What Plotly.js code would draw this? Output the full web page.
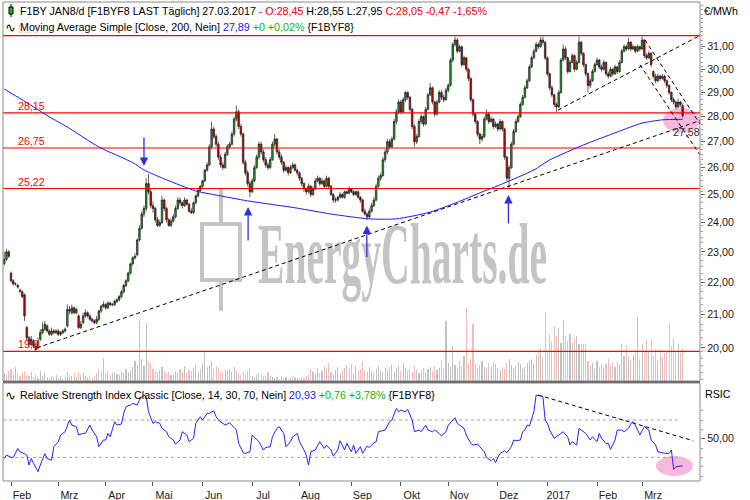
<!DOCTYPE html>
<html><head><meta charset="utf-8">
<script src="https://cdn.plot.ly/plotly-3.0.1.min.js"></script>
<style>html,body{margin:0;padding:0;background:#fff;}#chart{width:750px;height:500px;}</style>
</head><body><div id="chart"></div>
<script>
// ---------- data ----------
const firstDay = '2016-01-27';
const lastDay = '2017-03-27';
const closedDays = ['2016-03-25', '2016-03-28'];
const monthLabels = ['Feb','Mrz','Apr','Mai','Jun','Jul','Aug','Sep','Okt','Nov','Dez','2017','Feb','Mrz'];

const open = [22.6,22.75,23.0,22.3,22.05,21.95,21.9,21.75,21.7,21.6,
20.6,20.3,20.1,20.2,20.05,20.0,20.25,20.45,20.55,20.65,
20.5,20.4,20.5,20.45,20.5,20.4,20.45,20.5,20.65,21.15,
21.05,21.2,21.05,20.95,20.6,20.75,20.95,21.05,20.95,20.85,
20.8,20.75,20.85,21.1,21.25,21.3,21.2,21.35,21.3,21.3,
21.4,21.45,21.55,21.7,21.9,22.05,22.3,22.6,22.8,22.9,
23.4,23.8,24.3,24.5,25.4,25.1,24.6,24.5,24.1,23.9,
24.0,24.8,24.5,24.1,23.9,24.05,24.2,24.5,24.8,24.7,
24.6,24.8,24.65,24.4,24.35,24.7,24.95,25.15,25.3,25.5,
25.9,26.1,26.8,27.5,27.2,26.9,26.4,26.1,26.0,26.5,
26.8,26.9,27.3,27.9,28.2,27.6,27.3,26.2,25.8,25.4,
25.1,25.5,26.0,26.4,26.9,26.6,26.3,26.1,26.0,26.3,
26.9,27.1,26.6,26.4,26.2,25.9,26.0,25.8,26.0,26.1,
25.9,25.8,25.6,25.4,25.2,25.1,25.3,25.0,25.2,25.5,
25.6,25.4,25.5,25.3,25.6,25.3,25.0,24.8,24.8,24.9,
25.0,24.9,25.1,25.05,25.2,25.1,25.0,25.1,24.9,24.8,
24.4,24.3,24.2,24.4,24.6,24.8,25.3,25.6,25.7,26.3,
26.6,27.0,26.8,27.1,27.8,28.2,28.6,28.2,28.7,29.0,
28.8,28.3,27.6,27.0,27.2,27.8,28.0,27.7,28.3,28.9,
29.2,28.6,28.1,28.6,29.0,28.8,28.7,29.1,29.3,30.4,
31.1,31.3,30.8,31.0,30.2,30.5,30.0,29.6,28.7,28.1,
27.8,27.3,27.1,27.2,27.9,28.1,27.8,27.9,27.6,27.7,
27.5,27.8,27.5,26.4,25.6,26.0,26.9,27.4,27.8,28.0,
28.5,28.8,29.2,29.5,30.1,30.5,30.8,31.1,31.0,31.3,
31.2,30.5,29.8,29.2,28.9,28.5,28.4,29.0,30.4,30.9,
30.5,29.9,30.3,30.6,30.0,30.3,31.2,30.7,30.2,29.8,
29.3,29.5,29.9,30.2,30.4,30.1,30.0,30.3,29.8,29.7,
30.0,29.8,30.1,29.9,30.3,30.8,31.0,30.9,31.2,30.9,
31.0,30.8,31.0,30.9,31.3,30.6,30.5,30.7,29.9,29.7,
29.5,29.7,29.6,29.7,29.5,29.3,29.0,28.7,28.6,28.4,
28.6,28.45];

const high = [23.0,23.1,23.05,22.35,22.1,22.0,21.95,21.8,21.75,21.65,
20.65,20.35,20.35,20.25,20.15,20.3,20.55,20.75,20.8,20.7,
20.55,20.6,20.55,20.55,20.55,20.5,20.55,20.6,21.3,21.25,
21.3,21.25,21.2,21.0,20.8,21.05,21.15,21.1,21.0,20.9,
20.85,20.95,21.15,21.3,21.4,21.35,21.4,21.4,21.35,21.45,
21.5,21.6,21.75,21.95,22.1,22.35,22.65,22.85,22.95,23.45,
23.9,24.4,24.6,25.6,25.75,25.2,24.75,24.55,24.2,24.1,
24.95,24.85,24.55,24.15,24.15,24.3,24.6,24.9,24.9,24.75,
24.9,24.85,24.7,24.5,24.75,25.0,25.2,25.35,25.55,25.95,
26.2,26.9,27.8,27.6,27.3,27.0,26.5,26.2,26.6,26.9,
27.0,27.4,28.0,28.45,28.3,27.7,27.35,26.3,25.9,25.5,
25.6,26.1,26.5,27.0,27.0,26.7,26.4,26.2,26.4,27.0,
27.3,27.15,26.7,26.5,26.25,26.1,26.05,26.1,26.2,26.15,
25.95,25.85,25.65,25.45,25.25,25.4,25.35,25.3,25.6,25.7,
25.65,25.6,25.55,25.7,25.65,25.35,25.05,24.9,24.95,25.1,
25.05,25.15,25.15,25.3,25.25,25.15,25.15,25.15,24.95,24.85,
24.5,24.35,24.5,24.7,24.9,25.4,25.7,25.8,26.4,26.7,
27.1,27.1,27.2,27.9,28.3,28.7,28.7,28.8,29.05,29.05,
28.85,28.35,27.7,27.3,27.9,28.1,28.05,28.4,29.0,29.4,
29.25,28.65,28.7,29.1,29.1,28.9,29.2,29.4,30.5,31.2,
31.45,31.4,31.1,31.05,30.6,30.55,30.05,29.65,28.75,28.15,
27.85,27.35,27.3,28.0,28.3,28.2,28.0,27.95,27.8,27.75,
27.9,27.85,27.55,26.45,26.1,27.0,27.5,27.9,28.1,28.6,
28.9,29.3,29.6,30.2,30.6,30.9,31.2,31.2,31.45,31.45,
31.25,30.55,29.85,29.3,28.95,28.6,29.1,30.5,31.1,31.0,
30.55,30.4,30.7,30.65,30.4,31.45,31.25,30.75,30.25,29.85,
29.6,30.0,30.3,30.5,30.45,30.2,30.4,30.35,29.9,30.1,
30.05,30.2,30.15,30.4,30.9,31.1,31.1,31.4,31.25,31.1,
31.05,31.1,31.05,31.45,31.35,30.7,30.8,30.75,29.95,29.8,
29.8,29.75,29.8,29.75,29.55,29.35,29.05,28.8,28.65,28.75,
28.65,28.55];

const low = [22.55,22.7,22.8,22.0,21.9,21.9,21.8,21.65,21.5,20.8,
20.2,20.0,20.05,20.0,19.9,19.95,20.2,20.4,20.5,20.45,
20.35,20.35,20.4,20.4,20.35,20.35,20.4,20.45,20.6,21.0,
21.0,21.0,21.0,20.55,20.55,20.7,20.9,20.9,20.8,20.75,
20.7,20.7,20.8,21.05,21.2,21.15,21.15,21.25,21.25,21.25,
21.35,21.4,21.5,21.65,21.85,22.0,22.25,22.55,22.75,22.85,
23.35,23.75,24.2,24.4,25.0,24.5,24.35,24.0,23.85,23.85,
23.95,24.4,24.0,23.85,23.85,24.0,24.15,24.45,24.6,24.5,
24.55,24.6,24.35,24.3,24.3,24.65,24.9,25.1,25.25,25.45,
25.85,26.05,26.7,27.1,26.8,26.3,26.0,25.9,25.95,26.45,
26.7,26.85,27.2,27.8,27.5,27.2,26.1,25.7,25.3,24.9,
25.05,25.45,25.95,26.3,26.5,26.2,26.0,25.9,25.95,26.25,
26.8,26.5,26.3,26.1,25.8,25.85,25.7,25.75,25.95,25.85,
25.7,25.5,25.3,25.1,25.0,25.05,24.9,24.95,25.15,25.45,
25.3,25.35,25.2,25.25,25.2,24.95,24.7,24.7,24.75,24.85,
24.85,24.85,25.0,25.0,25.05,24.95,24.95,24.85,24.7,24.35,
24.25,24.1,24.15,24.35,24.55,24.75,25.25,25.5,25.65,26.2,
26.5,26.7,26.75,27.05,27.7,28.1,28.1,28.15,28.6,28.7,
28.2,27.5,26.8,26.9,27.15,27.7,27.6,27.65,28.25,28.85,
28.5,28.0,28.05,28.55,28.7,28.6,28.65,29.0,29.25,30.3,
31.0,30.7,30.75,30.1,30.15,29.9,29.5,28.6,28.0,27.7,
27.2,26.9,27.0,27.15,27.85,27.7,27.75,27.5,27.55,27.4,
27.45,27.4,26.3,25.5,25.2,25.95,26.85,27.35,27.75,27.95,
28.45,28.75,29.15,29.45,30.05,30.45,30.75,30.9,30.95,31.1,
30.4,29.7,29.1,28.8,28.4,28.2,28.35,28.95,30.35,30.4,
29.8,29.85,30.25,29.9,29.95,30.25,30.6,30.1,29.7,29.0,
29.2,29.45,29.85,30.15,30.0,29.9,29.95,29.7,29.6,29.65,
29.7,29.75,29.8,29.85,30.25,30.75,30.8,30.85,30.8,30.85,
30.7,30.75,30.8,30.85,30.5,30.4,30.45,30.1,29.6,29.4,
29.45,29.5,29.55,29.4,29.2,28.9,28.6,28.5,28.3,28.35,
28.4,27.95];

const close = [22.75,23.0,22.85,22.05,21.95,21.95,21.85,21.72,21.55,20.95,
20.3,20.1,20.25,20.05,19.95,20.2,20.45,20.55,20.7,20.5,
20.4,20.5,20.45,20.5,20.4,20.45,20.5,20.55,21.15,21.1,
21.2,21.05,21.15,20.6,20.7,20.95,21.05,20.95,20.85,20.8,
20.75,20.85,21.1,21.25,21.3,21.2,21.35,21.3,21.3,21.4,
21.45,21.55,21.7,21.9,22.05,22.3,22.6,22.8,22.85,23.4,
23.8,24.3,24.5,25.4,25.1,24.6,24.5,24.1,23.9,24.0,
24.8,24.5,24.1,23.9,24.05,24.2,24.5,24.8,24.7,24.6,
24.8,24.65,24.4,24.35,24.7,24.95,25.15,25.3,25.5,25.9,
26.1,26.8,27.5,27.2,26.9,26.4,26.1,26.0,26.5,26.8,
26.9,27.3,27.9,28.2,27.6,27.3,26.2,25.8,25.4,25.1,
25.5,26.0,26.4,26.9,26.6,26.3,26.1,26.0,26.3,26.9,
27.1,26.6,26.4,26.2,25.9,26.0,25.8,26.0,26.1,25.9,
25.8,25.6,25.4,25.2,25.1,25.3,25.0,25.2,25.5,25.6,
25.4,25.5,25.3,25.6,25.3,25.0,24.8,24.8,24.9,25.0,
24.9,25.1,25.05,25.2,25.1,25.0,25.1,24.9,24.8,24.4,
24.3,24.2,24.4,24.6,24.8,25.3,25.6,25.7,26.3,26.6,
27.0,26.8,27.1,27.8,28.2,28.6,28.2,28.7,29.0,28.8,
28.3,27.6,27.0,27.2,27.8,28.0,27.7,28.3,28.9,29.2,
28.6,28.1,28.6,29.0,28.8,28.7,29.1,29.3,30.4,31.1,
31.3,30.8,31.0,30.2,30.5,30.0,29.6,28.7,28.1,27.8,
27.3,27.1,27.2,27.9,28.1,27.8,27.9,27.6,27.7,27.5,
27.8,27.5,26.4,25.6,26.0,26.9,27.4,27.8,28.0,28.5,
28.8,29.2,29.5,30.1,30.5,30.8,31.1,31.0,31.3,31.2,
30.5,29.8,29.2,28.9,28.5,28.4,29.0,30.4,30.9,30.5,
29.9,30.3,30.6,30.0,30.3,31.2,30.7,30.2,29.8,29.3,
29.5,29.9,30.2,30.4,30.1,30.0,30.3,29.8,29.7,30.0,
29.8,30.1,29.9,30.3,30.8,31.0,30.9,31.2,30.9,31.0,
30.8,31.0,30.9,31.3,30.6,30.5,30.7,30.2,29.7,29.5,
29.7,29.6,29.7,29.5,29.3,29.0,28.7,28.6,28.4,28.6,
28.5,28.05];

const volume = [8,6,10,12,7,14,9,5,8,10,
6,5,9,4,7,3,10,5,8,4,
3,5,4,6,3,5,2,4,9,6,
5,7,4,9,6,8,5,4,6,3,
5,8,12,9,23,7,10,6,8,9,
7,6,10,8,12,9,11,14,20,16,
60,22,15,58,20,18,12,10,9,11,
14,10,8,9,6,7,10,8,12,9,
15,8,11,10,13,16,9,12,18,28,
14,16,20,12,15,13,8,9,11,10,
12,9,14,10,8,6,9,7,10,12,
5,4,6,8,7,5,6,9,5,4,
3,4,2,5,3,4,2,3,5,4,
3,2,4,3,5,6,12,9,7,13,
8,10,15,12,18,9,7,11,14,8,
10,13,16,12,17,8,15,10,12,20,
11,9,14,10,8,12,15,10,9,13,
11,14,16,9,12,15,10,18,13,11,
12,9,15,11,8,10,13,9,12,14,
10,15,11,13,20,12,60,18,14,35,
16,13,20,15,25,73,18,22,57,17,
13,16,20,14,12,18,15,19,17,13,
11,14,12,18,22,16,13,15,19,17,
12,14,18,20,22,17,26,30,33,24,
68,28,47,40,55,45,53,38,60,45,
40,47,38,43,45,37,37,37,37,20,
15,18,12,20,14,16,13,17,22,15,
18,14,20,16,37,25,36,24,20,26,
30,64,22,37,28,42,30,42,25,32,
20,32,24,28,30,58,35,43,30,37,
28,33];

const maDay   = [0,13,20,28,42,57,62,72,85,94,108,130,145,162,174,189,201,211,221,235,242,257,272,283,292,301];
const maValue = [29.15,28.40,27.99,27.58,26.79,26.19,25.91,25.54,25.13,24.98,24.77,24.51,24.30,24.13,24.13,24.37,24.72,25.06,25.39,25.91,26.29,26.87,27.38,27.74,27.87,27.89];

const rsiDay = [0,1,3,4,6,7,9,10,11,12,13,15,16,18,19,21,22,24,25,27,29,30,32,33,35,36,38,39,41,42,44,45,46,47,49,50,52,53,54,56,57,59,60,61,62,63,64,66,67,69,70,72,73,75,76,78,79,81,82,84,85,87,88,90,91,93,94,95,97,98,100,101,103,104,106,107,109,110,112,113,115,116,118,119,121,122,124,125,127,128,130,131,133,134,135,136,138,140,142,143,145,146,148,149,151,152,154,155,156,158,159,161,162,164,165,166,169,171,172,174,175,176,178,179,181,182,184,185,187,188,190,191,193,194,196,197,200,201,202,204,205,207,208,210,211,213,214,216,217,218,219,220,222,223,225,226,227,229,230,231,232,233,235,236,238,239,240,241,242,244,245,247,248,250,251,252,254,255,257,258,260,261,263,264,265,267,268,269,271,272,274,275,277,278,279,280,282,283,284,286,287,289,290,292,293,295,296,297,298,300,301];
const rsiValue = [28.9,32.5,30,30,39.6,36,34,32.5,21.8,28.9,23.6,14.6,21.8,34,28.9,27,41.4,46.8,54,57.5,70,64.6,62.9,54,55.7,55.7,64.6,59.3,52.1,41.4,48.6,48.6,55.7,52.1,68.2,64.6,65.7,77.1,84.3,86.1,87.9,86.1,91.4,95,96.8,95,78.9,66.4,68.2,66.4,61.1,57.5,52.1,48.6,44.3,48.6,57.5,54,46.8,50.4,66.4,73.6,70,77.1,77.1,80,73.6,70,66.4,64.6,67.1,64.6,59.3,45,35,34.3,36,54,48.6,46.8,37.9,40.7,41.4,52.1,61.1,62.9,55.7,41.4,46.8,52.1,55.7,46.8,37.9,32.5,21.8,36,37.9,46.8,39.6,43.2,37.9,31.4,37.9,47.9,37.9,45,36,43.2,34.3,41.4,34.3,42.1,40.7,45.7,46.8,57.5,59.3,68.2,70,82.5,78.9,80.7,78.9,81.4,70,57.5,59.3,57.5,64.6,59.3,57.5,59.3,55.7,52.9,57.5,64.6,72.5,66.4,64.6,61.1,54,45,43.2,44.3,41.4,36,30,26.4,28.9,24.3,30,34.3,37.1,35,41.4,48.6,47.9,48.6,57.5,59.3,64.6,63.6,78.9,96.8,95.7,95,70,66.4,59.3,50.4,52.1,55.7,57.5,52.1,43.2,46.8,43.2,61.1,57.5,55.7,48.6,52.1,46.8,55.7,50.4,45,45,38.6,48.6,59.3,59.3,57.5,61.1,66.4,68.2,64.6,54,59.3,62.9,59.3,48.6,43.2,36,35,34.3,34.3,37.9,17.1,20,20.7,20.93];

const levelValues = [31.5, 28.15, 26.75, 25.22, 19.9];
const levelLabels = ['31,5', '28,15', '26,75', '25,22', '19,9'];

// hand-drawn trend lines: [startDay, endDay], [startValue, endValue]
const trendDays   = [[14.5, 308.7], [245.7, 308.7], [284.3, 308.7], [282.1, 308.7]];
const trendValues = [[20.0, 27.84], [28.27, 31.51], [31.30, 27.70], [30.19, 26.48]];
const rsiTrendDays = [236.9, 305.6];
const rsiTrendValues = [96.8, 47.9];

const arrowDays = [62.0, 108.2, 160.9, 223.7];
const arrowTips = [26.06, 24.55, 23.90, 24.98];
const arrowOffsets = [-30, 35, 33, 30];

const priceTicks = [20,21,22,23,24,25,26,27,28,29,30,31];
const priceTickLabels = ['20,00','21,00','22,00','23,00','24,00','25,00','26,00','27,00','28,00','29,00','30,00','31,00'];

// ---------- build ----------
const days = [];
for (let d = new Date(firstDay + 'T00:00:00Z'); d <= new Date(lastDay + 'T00:00:00Z'); d.setUTCDate(d.getUTCDate() + 1)) {
  const wd = d.getUTCDay(); const iso = d.toISOString().slice(0, 10);
  if (wd === 0 || wd === 6 || closedDays.includes(iso)) continue;
  days.push(iso);
}
const idx = days.map((_, i) => i);
const monthTicks = [];
for (let i = 1; i < days.length; i++) if (days[i].slice(0, 7) !== days[i - 1].slice(0, 7)) monthTicks.push(i);

const X0 = -0.55, X1 = 308.7;
const FONT = 'Liberation Sans, Arial, sans-serif';
const px = v => (v - 3) / 697;      // pixel -> paper x
const py = v => (481 - v) / 479;    // pixel -> paper y

const minorPrice = [];
for (let k = 191; k <= 330; k += 2) { if (k % 10 !== 0) minorPrice.push(k / 10); }

const data = [];
data.push({type: 'bar', x: idx, y: volume, xaxis: 'x', yaxis: 'y', width: 0.5,
  marker: {color: volume.map((_, i) => close[i] >= open[i] ? '#c2c2c2' : '#f0bcbc'), line: {width: 0}}, hoverinfo: 'skip'});
levelValues.forEach(v => data.push({type: 'scatter', mode: 'lines', x: [X0, X1], y: [v, v], xaxis: 'x', yaxis: 'y2',
  line: {color: '#ff0000', width: 1.2}, hoverinfo: 'skip'}));
data.push({type: 'scatter', mode: 'lines', x: maDay, y: maValue, xaxis: 'x', yaxis: 'y2',
  line: {color: '#1a1aff', width: 1, shape: 'spline', smoothing: 0.6}, hoverinfo: 'skip'});
trendDays.forEach((t, k) => data.push({type: 'scatter', mode: 'lines', x: t, y: trendValues[k], xaxis: 'x', yaxis: 'y2',
  line: {color: '#000', width: 1, dash: '4px,3px'}, hoverinfo: 'skip'}));
data.push({type: 'candlestick', x: idx, open: open, high: high, low: low, close: close, xaxis: 'x', yaxis: 'y2',
  increasing: {fillcolor: '#22a022', line: {color: '#1a1a1a', width: 0.7}},
  decreasing: {fillcolor: '#e00000', line: {color: '#1a1a1a', width: 0.7}},
  whiskerwidth: 0, hoverinfo: 'skip'});
// RSI pane
[70, 30].forEach(v => data.push({type: 'scatter', mode: 'lines', x: [X0, 300], y: [v, v], xaxis: 'x', yaxis: 'y3',
  line: {color: '#a0a0a0', width: 1, dash: 'dot'}, hoverinfo: 'skip'}));
data.push({type: 'scatter', mode: 'lines', x: rsiTrendDays, y: rsiTrendValues, xaxis: 'x', yaxis: 'y3',
  line: {color: '#000', width: 1, dash: '4px,3px'}, hoverinfo: 'skip'});
data.push({type: 'scatter', mode: 'lines', x: rsiDay, y: rsiValue, xaxis: 'x', yaxis: 'y3',
  line: {color: '#2424ff', width: 1}, hoverinfo: 'skip'});

const annotations = [];
const txt = (x, y, text, size, color, extra) => Object.assign({xref: 'paper', yref: 'paper', x: x, y: y, text: text,
  showarrow: false, xanchor: 'left', yanchor: 'middle', font: {family: FONT, size: size, color: color}, borderpad: 0}, extra || {});
annotations.push(txt(px(19), py(11), 'F1BY JAN8/d [F1BYF8 LAST Täglich] 27.03.2017 <span style="color:#e00000">- O:28,45</span> H:28,55 L:27,95 <span style="color:#e00000">C:28,05 -0,47 -1,65%</span>', 10.7, '#000'));
annotations.push(txt(px(19), py(27), 'Moving Average Simple [Close, 200, Nein] <span style="color:#2020ff">27,89</span> <span style="color:#10b010">+0 +0,02%</span> {F1BYF8}', 10.7, '#000'));
annotations.push(txt(px(19), py(395), 'Relative Strength Index Classic [Close, 14, 30, 70, Nein] <span style="color:#2020ff">20,93</span> <span style="color:#10b010">+0,76 +3,78%</span> {F1BYF8}', 10.7, '#000'));
annotations.push(txt(px(4), py(27), '∿', 13, '#000'));
annotations.push(txt(px(4), py(395), '∿', 13, '#000'));
annotations.push(txt(px(703), py(11), '€/MWh', 10.7, '#000'));
annotations.push(txt(px(704), py(394), 'RSIC', 10.7, '#000'));
annotations.push(txt(px(672), py(132), '27,58', 10.7, '#333'));
levelValues.forEach((v, k) => annotations.push({xref: 'paper', yref: 'y2', x: px(17), y: Math.log10(v), text: levelLabels[k],
  showarrow: false, xanchor: 'left', yanchor: 'bottom', yshift: 0, borderpad: 0,
  font: {family: FONT, size: 10.7, color: '#ff0000'}, opacity: k === 0 ? 0.25 : 1}));
arrowDays.forEach((d, k) => annotations.push({xref: 'x', yref: 'y2', x: d, y: Math.log10(arrowTips[k]), text: '',
  showarrow: true, ax: 0, ay: arrowOffsets[k], arrowhead: 2, arrowsize: 1.3, arrowwidth: 1.3, arrowcolor: '#3030e0'}));

const wm = '#c4c4c4';
const shapes = [
  // watermark
  {type: 'rect', xref: 'paper', yref: 'paper', x0: px(250), x1: px(555), y0: py(290), y1: py(200), line: {width: 0}, layer: 'below',
   label: {text: 'EnergyCharts.de', textposition: 'middle center', padding: 0, font: {family: 'Liberation Serif, serif', size: 86, weight: 'bold', color: wm}}},
  {type: 'rect', xref: 'paper', yref: 'paper', x0: px(202), x1: px(240), y0: py(280), y1: py(224), line: {color: wm, width: 4}, layer: 'below'},
  {type: 'line', xref: 'paper', yref: 'paper', x0: px(221), x1: px(221), y0: py(222), y1: py(189), line: {color: wm, width: 4}, layer: 'below'},
  {type: 'line', xref: 'paper', yref: 'paper', x0: px(221), x1: px(221), y0: py(311), y1: py(282), line: {color: wm, width: 4}, layer: 'below'},
  // highlight ellipses
  {type: 'circle', xref: 'paper', yref: 'paper', x0: px(663), x1: px(700), y0: py(133), y1: py(108), fillcolor: 'rgba(244,160,212,0.75)', line: {width: 0}, layer: 'below'},
  {type: 'circle', xref: 'paper', yref: 'paper', x0: px(656), x1: px(693), y0: py(476), y1: py(456), fillcolor: 'rgba(244,160,212,0.75)', line: {width: 0}, layer: 'below'},
  // frames
  {type: 'rect', xref: 'paper', yref: 'paper', x0: 0, x1: 1, y0: py(381), y1: 1, line: {color: '#8a8a8a', width: 1}},
  {type: 'rect', xref: 'paper', yref: 'paper', x0: 0, x1: 1, y0: 0, y1: py(383), line: {color: '#8a8a8a', width: 1}},
  {type: 'line', xref: 'paper', yref: 'paper', x0: 0, x1: 1, y0: py(382), y1: py(382), line: {color: '#6e6e6e', width: 2}},
  // header candle icon
  {type: 'line', xref: 'paper', yref: 'paper', x0: px(11), x1: px(11), y0: py(17), y1: py(4), line: {color: '#000', width: 1}},
  {type: 'rect', xref: 'paper', yref: 'paper', x0: px(9), x1: px(13), y0: py(14), y1: py(7), fillcolor: '#28b028', line: {color: '#000', width: 1}}
];

const tickFont = {family: FONT, size: 10.7, color: '#1a1a1a'};
const layout = {
  width: 750, height: 500,
  margin: {l: 3, r: 50, t: 2, b: 19, pad: 0},
  paper_bgcolor: '#ffffff', plot_bgcolor: 'rgba(0,0,0,0)',
  showlegend: false, boxgap: 0.02, bargap: 0,
  xaxis: {range: [X0, X1], anchor: 'y3', showgrid: false, zeroline: false, showline: false,
    tickmode: 'array', tickvals: monthTicks, ticktext: monthLabels, ticks: 'outside', ticklen: 4, tickcolor: '#555',
    tickfont: tickFont, ticklabelshift: 11, rangeslider: {visible: false}, fixedrange: true},
  yaxis: {domain: [py(381), 1], range: [0, 379], visible: false, fixedrange: true},
  yaxis2: {type: 'log', overlaying: 'y', side: 'right', anchor: 'x', range: [1.2801, 1.5196],
    tickmode: 'array', tickvals: priceTicks, ticktext: priceTickLabels, ticks: 'outside', ticklen: 4, tickcolor: '#666',
    tickfont: tickFont, showgrid: false, zeroline: false, showline: false, fixedrange: true,
    minor: {tickmode: 'array', tickvals: minorPrice, ticks: 'outside', ticklen: 2, tickcolor: '#999', showgrid: false}},
  yaxis3: {domain: [0, py(383)], range: [4.7, 109.7], side: 'right', anchor: 'x',
    tickmode: 'array', tickvals: [50], ticktext: ['50,00'], ticks: 'outside', ticklen: 4, tickcolor: '#666',
    tickfont: tickFont, showgrid: false, zeroline: false, showline: false, fixedrange: true,
    minor: {tickmode: 'array', tickvals: [10, 20, 30, 40, 60, 70, 80], ticks: 'outside', ticklen: 2, tickcolor: '#999', showgrid: false}},
  annotations: annotations,
  shapes: shapes
};

Plotly.newPlot('chart', data, layout, {staticPlot: true, displayModeBar: false}).then(gd => {
  gd.querySelectorAll('text').forEach(t => {
    if (t.textContent === 'EnergyCharts.de') {
      t.setAttribute('textLength', '289');
      t.setAttribute('lengthAdjust', 'spacingAndGlyphs');
    }
  });
});
</script>
</body></html>
